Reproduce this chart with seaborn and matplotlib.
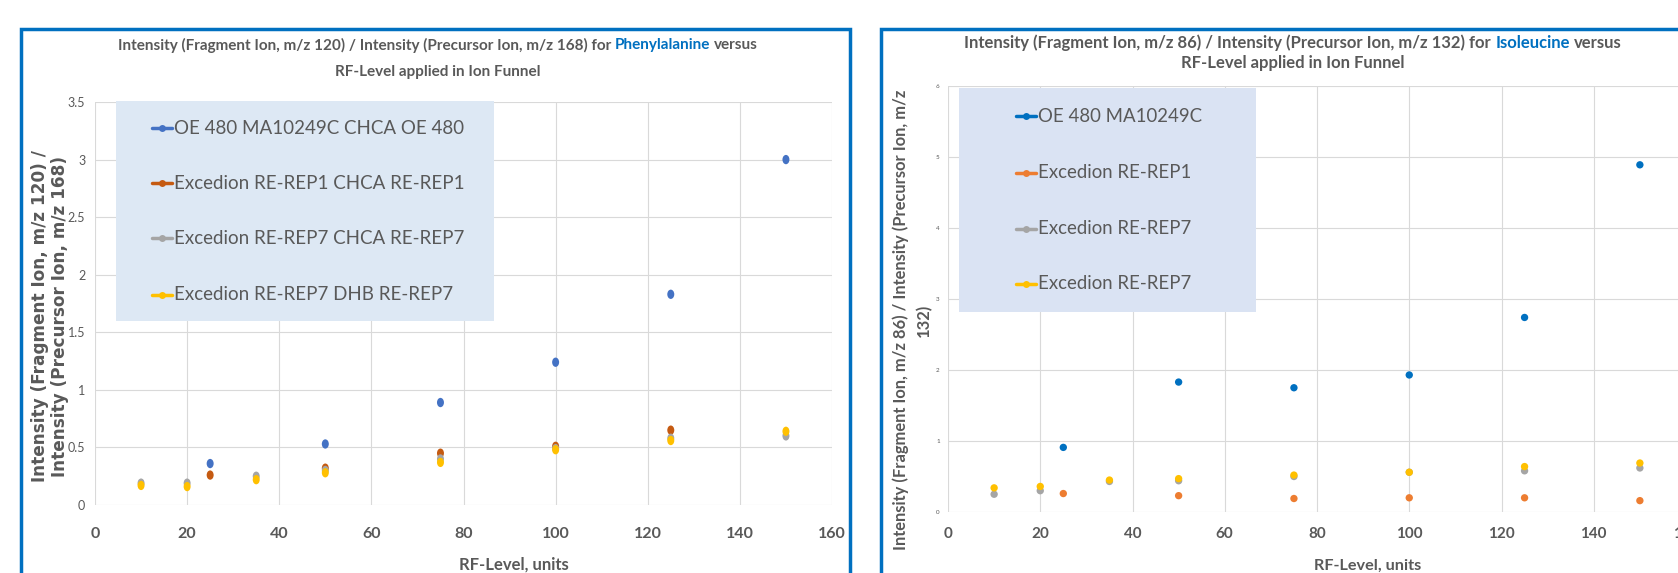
import numpy as np
import pandas as pd
import seaborn as sns
import matplotlib.pyplot as plt
from matplotlib.lines import Line2D
from matplotlib.patches import Rectangle
from matplotlib.path import Path
from matplotlib.ticker import FuncFormatter

W, H = 1678, 573
GREY = '#595959'
NARROW = ['Lato', 'DejaVu Sans']

# ---- Phenylalanine (left chart) ----
phe_names = ['OE 480 MA10249C CHCA OE 480', 'Excedion RE-REP1 CHCA RE-REP1',
             'Excedion RE-REP7 CHCA RE-REP7', 'Excedion RE-REP7 DHB RE-REP7']
phe_colors = ['#4472c4', '#c55a11', '#a5a5a5', '#ffc000']
phe_rf_oe = [25, 50, 75, 100, 125, 150]
phe_oe = [0.36, 0.53, 0.89, 1.24, 1.83, 3.00]
phe_rf_rep1 = [25, 50, 75, 100, 125]
phe_rep1 = [0.26, 0.32, 0.45, 0.51, 0.65]
phe_rf_rep7 = [10, 20, 35, 50, 75, 100, 125, 150]
phe_rep7_chca = [0.19, 0.19, 0.25, 0.30, 0.40, 0.49, 0.58, 0.60]
phe_rep7_dhb = [0.17, 0.16, 0.22, 0.28, 0.37, 0.48, 0.56, 0.64]

# ---- Isoleucine (right chart) ----
ile_names = ['OE 480 MA10249C', 'Excedion RE-REP1', 'Excedion RE-REP7', 'Excedion RE-REP7 ']
ile_colors = ['#0070c0', '#ed7d31', '#a5a5a5', '#ffc000']
ile_rf_oe = [25, 50, 75, 100, 125, 150]
ile_oe = [0.91, 1.83, 1.75, 1.93, 2.74, 4.89]
ile_rf_rep1 = [25, 50, 75, 100, 125, 150]
ile_rep1 = [0.26, 0.23, 0.19, 0.20, 0.20, 0.16]
ile_rf_rep7 = [10, 20, 35, 50, 75, 100, 125, 150]
ile_rep7_a = [0.25, 0.30, 0.43, 0.44, 0.50, 0.56, 0.58, 0.62]
ile_rep7_b = [0.34, 0.36, 0.45, 0.47, 0.52, 0.56, 0.64, 0.69]

x_ticks = list(range(0, 161, 20))


def long_frame(rows):
    frames = [pd.DataFrame({'rf': x, 'ratio': y, 'series': name}) for name, x, y in rows]
    return pd.concat(frames, ignore_index=True)


def fx(px):
    return px / W


def fy(py):
    return 1 - py / H


def fit(t, target, vertical=False):
    # scale font so the text spans target pixels
    bb = t.get_window_extent(fig.canvas.get_renderer())
    size = bb.height if vertical else bb.width
    t.set_fontsize(t.get_fontsize() * target / size)
    return t.get_fontsize()


def title_line(xc, y, parts, target=None, **kw):
    # several colours on one centred line
    r = fig.canvas.get_renderer()
    texts = [fig.text(0, fy(y), s, color=c, va='center', **kw) for s, c in parts]
    a = fig.text(0, 0, 'a a', **kw)
    b = fig.text(0, 0, 'aa', **kw)
    widths = [t.get_window_extent(r).width for t in texts]
    gap = a.get_window_extent(r).width - b.get_window_extent(r).width
    if target:
        scale = target / (sum(widths) + gap * (len(texts) - 1))
        for t in texts + [a, b]:
            t.set_fontsize(t.get_fontsize() * scale)
        widths = [t.get_window_extent(r).width for t in texts]
        gap = a.get_window_extent(r).width - b.get_window_extent(r).width
    a.remove()
    b.remove()
    x = xc - (sum(widths) + gap * (len(texts) - 1)) / 2
    for t, w in zip(texts, widths):
        t.set_x(fx(x))
        x += w + gap
    return texts[0].get_fontsize()


def legend_box(box, rows, colors, names, x_handle, x_text, target, family):
    x0, y0, x1, y1, face = box
    fig.add_artist(Rectangle((fx(x0), fy(y1)), fx(x1 - x0), (y1 - y0) / H,
                             transform=fig.transFigure, facecolor=face,
                             edgecolor='none', zorder=2))
    size = None
    for y, c, name in zip(rows, colors, names):
        fig.add_artist(Line2D([fx(x_handle[0]), fx(x_handle[1])], [fy(y), fy(y)],
                              transform=fig.transFigure, color=c, lw=2.5, zorder=3))
        fig.add_artist(Line2D([fx(sum(x_handle) / 2)], [fy(y)], transform=fig.transFigure,
                              color=c, marker='o', ms=5, mec='none', zorder=3))
        t = fig.text(fx(x_text), fy(y), name.strip(), va='center', ha='left', color=GREY,
                     fontsize=size or 12, family=family, zorder=4)
        if size is None:
            size = fit(t, target)


def style_axes(ax, ylim, ystep, ylab_size, ypad, xlab_size, xpad):
    ax.set_xlim(0, 160)
    ax.set_ylim(*ylim)
    ax.set_yticks(np.arange(ylim[0], ylim[1] + 0.001, ystep))
    ax.yaxis.set_major_formatter(FuncFormatter(lambda v, p: f'{v:g}'))
    ax.set_xticks(x_ticks)
    ax.set_xticklabels([str(t) for t in x_ticks], fontweight='bold')
    ax.tick_params(axis='x', length=0, pad=xpad, labelsize=xlab_size, labelcolor=GREY)
    ax.tick_params(axis='y', length=0, pad=ypad, labelsize=ylab_size, labelcolor=GREY)
    ax.grid(True, color='#d9d9d9', lw=0.8)
    ax.set_axisbelow(True)
    for s in ax.spines.values():
        s.set_visible(False)
    ax.set_xlabel('')
    ax.set_ylabel('')


sns.set_style('white')
plt.rcParams['font.family'] = NARROW

fig = plt.figure(figsize=(W / 100, H / 100), dpi=100)

# panel frames
fig.add_artist(Rectangle((fx(21), -0.1), fx(850 - 21), 1.1 - 29 / H, transform=fig.transFigure,
                         fill=False, edgecolor='#0070c0', lw=2.5))
fig.add_artist(Rectangle((fx(881), -0.1), 1.0, 1.1 - 29 / H, transform=fig.transFigure,
                         fill=False, edgecolor='#0070c0', lw=2.5))

# left chart
ax1 = fig.add_axes([fx(95), fy(505), fx(832 - 95), (505 - 102) / H])
phe = long_frame([(phe_names[0], phe_rf_oe, phe_oe),
                  (phe_names[1], phe_rf_rep1, phe_rep1),
                  (phe_names[2], phe_rf_rep7, phe_rep7_chca),
                  (phe_names[3], phe_rf_rep7, phe_rep7_dhb)])
circ = Path.unit_circle()
ellipse = Path(circ.vertices * [0.75, 1.0], circ.codes)
sns.scatterplot(data=phe, x='rf', y='ratio', hue='series', hue_order=phe_names,
                palette=dict(zip(phe_names, phe_colors)), marker=ellipse, s=45,
                edgecolor='none', linewidth=0, legend=False, ax=ax1)
style_axes(ax1, (0, 3.5), 0.5, 9, 7, 11.5, 15.5)

# right chart
ax2 = fig.add_axes([fx(948), fy(512), fx(1686 - 948), (512 - 86) / H])
ile = long_frame([(ile_names[0], ile_rf_oe, ile_oe),
                  (ile_names[1], ile_rf_rep1, ile_rep1),
                  (ile_names[2], ile_rf_rep7, ile_rep7_a),
                  (ile_names[3], ile_rf_rep7, ile_rep7_b)])
sns.scatterplot(data=ile, x='rf', y='ratio', hue='series', hue_order=ile_names,
                palette=dict(zip(ile_names, ile_colors)), marker='o', s=28,
                edgecolor='none', linewidth=0, legend=False, ax=ax2)
style_axes(ax2, (0, 6), 1, 4.5, 6, 11, 11)

# titles
tkw = dict(fontsize=12, fontweight='bold', family=NARROW)
size = title_line(438, 45, [('Intensity (Fragment Ion, m/z 120) / Intensity (Precursor Ion, m/z 168) for', GREY),
                            ('Phenylalanine', '#0070c0'), ('versus', GREY)], target=638, **tkw)
title_line(438, 72, [('RF-Level applied in Ion Funnel', GREY)], fontsize=size, fontweight='bold', family=NARROW)
size = title_line(1293, 43, [('Intensity (Fragment Ion, m/z 86) / Intensity (Precursor Ion, m/z 132) for', GREY),
                             ('Isoleucine', '#0070c0'), ('versus', GREY)], target=655, **tkw)
title_line(1293, 63, [('RF-Level applied in Ion Funnel', GREY)], fontsize=size, fontweight='bold', family=NARROW)

# axis titles
lab = fig.text(fx(50), fy(316), 'Intensity (Fragment Ion, m/z 120) /\nIntensity (Precursor Ion, m/z 168)',
               rotation=90, ha='center', va='center', multialignment='center', color=GREY,
               fontsize=12, fontweight='bold', family=['DejaVu Sans'], linespacing=1.1)
fit(lab, 330, vertical=True)
lab = fig.text(fx(912), fy(320), 'Intensity (Fragment Ion, m/z 86) / Intensity (Precursor Ion, m/z\n132)',
               rotation=90, ha='center', va='center', multialignment='center', color=GREY,
               fontsize=10.5, fontweight='bold', family=NARROW, linespacing=1.5)
fit(lab, 464, vertical=True)
for xc, width in ((514, 110), (1368, 107)):
    lab = fig.text(fx(xc), fy(570), 'RF-Level, units', ha='center', va='baseline', color=GREY,
                   fontsize=13, fontweight='bold', family=NARROW)
    fit(lab, width)

# legends
legend_box((116, 101, 494, 321, '#dde8f4'), [128, 183, 238, 295], phe_colors, phe_names,
           (152, 172), 174, 288, NARROW)
legend_box((959, 88, 1256, 312, '#dae3f3'), [116, 173, 229, 284], ile_colors, ile_names,
           (1016, 1036), 1038, 163, NARROW)

fig.savefig('out.png', dpi=100)
